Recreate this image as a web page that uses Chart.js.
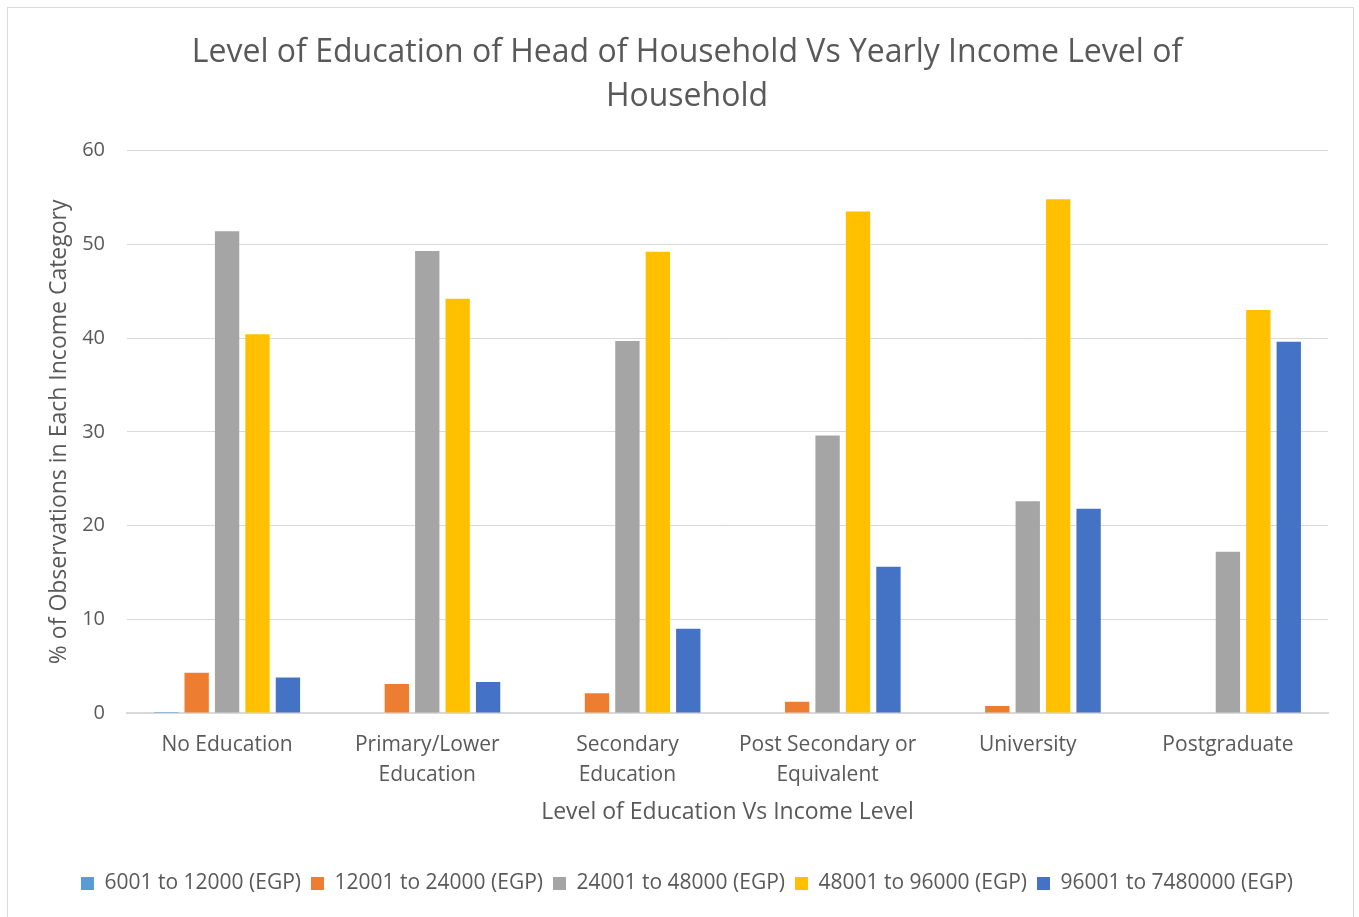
<!DOCTYPE html>
<html>
<head>
<meta charset="utf-8">
<script src="https://cdn.jsdelivr.net/npm/chart.js@4.4.0/dist/chart.umd.min.js"></script>
<style>
  body { margin: 0; background: #fff; }
  #wrap { position: absolute; left: 7px; top: 7px; width: 1347px; height: 916px; border: 1px solid #d9d9d9; box-sizing: border-box; }
  #grafico { display: block; }
</style>
</head>
<body>
<div id="wrap"><canvas id="grafico" width="1345" height="914"></canvas></div>
<script>
let categorias = [
    'No Education',
    ['Primary/Lower', 'Education'],
    ['Secondary', 'Education'],
    ['Post Secondary or', 'Equivalent'],
    'University',
    'Postgraduate'
]

let faixas = [
    '6001 to 12000 (EGP)',
    '12001 to 24000 (EGP)',
    '24001 to 48000 (EGP)',
    '48001 to 96000 (EGP)',
    '96001 to 7480000 (EGP)'
]

// % de observações por faixa de renda
let renda6k = [0.1, 0, 0, 0, 0, 0]
let renda12k = [4.3, 3.1, 2.1, 1.2, 0.75, 0]
let renda24k = [51.4, 49.3, 39.7, 29.6, 22.6, 17.2]
let renda48k = [40.4, 44.2, 49.2, 53.5, 54.8, 43.0]
let renda96k = [3.8, 3.3, 9.0, 15.6, 21.8, 39.6]

let cores = ['#5b9bd5', '#ed7d31', '#a5a5a5', '#ffc000', '#4472c4']
let series = [renda6k, renda12k, renda24k, renda48k, renda96k]

const fonte = "'Open Sans', 'DejaVu Sans', sans-serif"
const corTexto = '#595959'

const fundoBranco = {
    id: 'fundoBranco',
    beforeDraw(chart) {
        const ctx = chart.ctx
        ctx.save()
        ctx.fillStyle = '#fff'
        ctx.fillRect(0, 0, chart.width, chart.height)
        ctx.restore()
    }
}

new Chart(document.getElementById('grafico'), {
    type: 'bar',
    data: {
        labels: categorias,
        datasets: series.map((s, i) => ({
            label: faixas[i],
            data: s,
            backgroundColor: cores[i],
            borderWidth: 0,
            categoryPercentage: 0.76,
            barPercentage: 0.8
        }))
    },
    options: {
        responsive: false,
        animation: false,
        layout: { padding: { left: 38, right: 25, top: 10, bottom: 18 } },
        plugins: {
            title: {
                display: true,
                text: ['Level of Education of Head of Household Vs Yearly Income Level of', 'Household'],
                color: corTexto,
                font: { family: fonte, size: 32, weight: 'normal', lineHeight: 1.4 },
                padding: { top: 12, bottom: 31 }
            },
            legend: {
                position: 'bottom',
                labels: {
                    color: corTexto,
                    font: { family: fonte, size: 21 },
                    boxWidth: 13,
                    boxHeight: 13,
                    padding: 10
                }
            },
            tooltip: { enabled: false }
        },
        scales: {
            x: {
                afterFit: (escala) => { escala.height = 150 },
                grid: { display: false, drawTicks: false },
                border: { color: '#d9d9d9', width: 2 },
                ticks: {
                    color: corTexto,
                    font: { family: fonte, size: 21, lineHeight: 1.43 },
                    maxRotation: 0,
                    autoSkip: false,
                    padding: 17
                },
                title: {
                    display: true,
                    text: 'Level of Education Vs Income Level',
                    color: corTexto,
                    font: { family: fonte, size: 23 },
                    padding: { top: 0, bottom: 37 }
                }
            },
            y: {
                afterFit: (escala) => { escala.width = 81 },
                min: 0,
                max: 60,
                ticks: {
                    stepSize: 10,
                    color: corTexto,
                    font: { family: fonte, size: 20 },
                    padding: 22
                },
                grid: { color: '#d9d9d9', lineWidth: 1, drawTicks: false },
                border: { display: false },
                title: {
                    display: true,
                    text: '% of Observations in Each Income Category',
                    color: corTexto,
                    font: { family: fonte, size: 23 },
                    padding: { top: 0, bottom: 7 }
                }
            }
        }
    },
    plugins: [fundoBranco]
})
</script>
</body>
</html>
